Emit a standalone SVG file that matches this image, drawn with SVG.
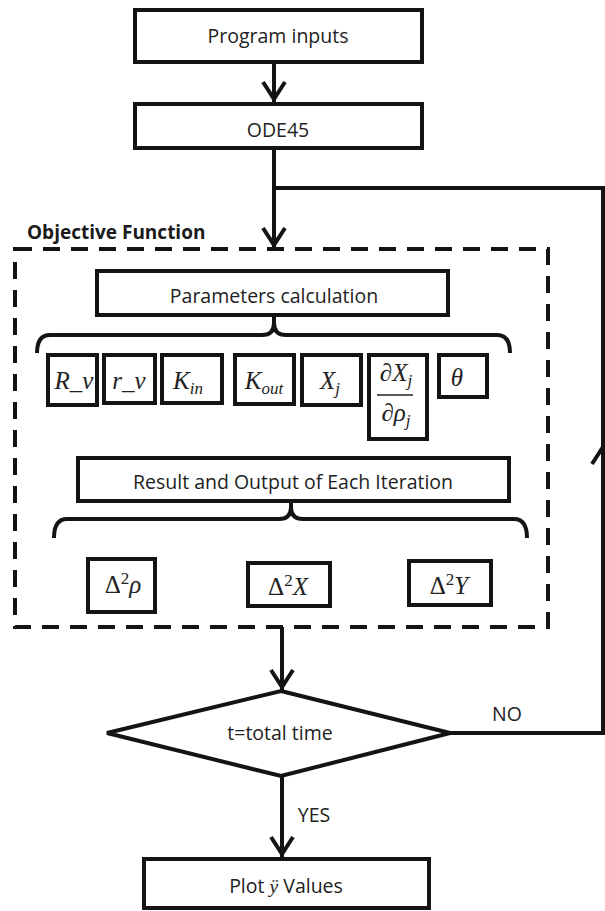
<svg xmlns="http://www.w3.org/2000/svg" width="605" height="911" viewBox="0 0 605 911">
  <defs>
    <style>
      .box { fill: #fff; stroke: #141414; stroke-width: 4; }
      .dash { fill: none; stroke: #141414; stroke-width: 4; stroke-dasharray: 17 11; }
      .line { fill: none; stroke: #141414; stroke-width: 4; }
      .lbl { font-family: "Open Sans", "Liberation Sans", sans-serif; font-size: 19.5px; fill: #222; text-anchor: middle; }
      .bold { font-family: "Open Sans", "Liberation Sans", sans-serif; font-size: 19px; font-weight: bold; fill: #1a1a1a; }
      .math { font-family: "Liberation Serif", "DejaVu Serif", serif; font-style: italic; font-size: 25px; fill: #222; text-anchor: middle; }
      .up { font-style: normal; }
      .sub { font-size: 17px; }
    </style>
    <marker id="arrow" markerUnits="userSpaceOnUse" markerWidth="40" markerHeight="40" viewBox="-25 -20 40 40" refX="3" refY="0" orient="auto">
      <path d="M-17,-11 L0,0 L-17,11" fill="none" stroke="#141414" stroke-width="4"/>
    </marker>
  </defs>

  <rect width="605" height="911" fill="#fff"/>

  <!-- connectors -->
  <g id="connectors">
    <path class="line" d="M274,62 L274,102" marker-end="url(#arrow)"/>
    <path class="line" d="M274,148 L274,248" marker-end="url(#arrow)"/>
    <path class="line" d="M282,627 L282,690" marker-end="url(#arrow)"/>
    <path class="line" d="M282,776 L282,857" marker-end="url(#arrow)"/>
    <path class="line" d="M450,733 L603,733 L603,188 L274,188"/>
    <path class="line" d="M592,464 L603,447 L614,464"/>
    <text class="lbl" x="507" y="721">NO</text>
    <text class="lbl" x="314" y="822">YES</text>
  </g>

  <g id="program-inputs">
    <rect class="box" x="135" y="10" width="287" height="52"/>
    <text class="lbl" x="278" y="43">Program inputs</text>
  </g>

  <g id="ode45">
    <rect class="box" x="135" y="104" width="287" height="44"/>
    <text class="lbl" x="278" y="137">ODE45</text>
  </g>

  <g id="objective-function">
    <rect class="dash" x="15" y="249" width="533" height="378"/>
    <text class="bold" x="27" y="239">Objective Function</text>
  </g>

  <g id="parameters-calculation">
    <rect class="box" x="97" y="271" width="351" height="44"/>
    <text class="lbl" x="274" y="303">Parameters calculation</text>
    <path class="line" d="M37,353 Q37,335 50,335 L262,335 Q274,335 274,323 L274,315 M274,323 Q274,335 286,335 L497,335 Q510,335 510,353"/>
  </g>

  <g id="param-Rv">
    <rect class="box" x="48" y="355" width="49" height="50"/>
    <text class="math" x="74" y="389">R_v</text>
  </g>
  <g id="param-rv">
    <rect class="box" x="104" y="355" width="51" height="48"/>
    <text class="math" x="129" y="389">r_v</text>
  </g>
  <g id="param-Kin">
    <rect class="box" x="162" y="355" width="60" height="48"/>
    <text class="math" x="188" y="389">K<tspan class="sub" dy="5">in</tspan></text>
  </g>
  <g id="param-Kout">
    <rect class="box" x="235" y="355" width="59" height="49"/>
    <text class="math" x="264" y="389">K<tspan class="sub" dy="5">out</tspan></text>
  </g>
  <g id="param-Xj">
    <rect class="box" x="302" y="355" width="59" height="50"/>
    <text class="math" x="330" y="389">X<tspan class="sub" dy="5">j</tspan></text>
  </g>
  <g id="param-dXdrho">
    <rect class="box" x="369" y="355" width="58" height="84"/>
    <text class="math" x="396" y="381">∂X<tspan class="sub" dy="5">j</tspan></text>
    <line x1="377" y1="395" x2="413" y2="395" stroke="#222" stroke-width="1.6"/>
    <text class="math" x="396" y="421">∂ρ<tspan class="sub" dy="5">j</tspan></text>
  </g>
  <g id="param-theta">
    <rect class="box" x="439" y="355" width="48" height="42"/>
    <text class="math" x="457" y="386">θ</text>
  </g>

  <g id="result-output">
    <rect class="box" x="78" y="458" width="431" height="43"/>
    <text class="lbl" x="293" y="489">Result and Output of Each Iteration</text>
    <path class="line" d="M54,538 Q54,519 67,519 L279,519 Q291,519 291,507 L291,501 M291,507 Q291,519 303,519 L514,519 Q527,519 527,538"/>
  </g>

  <g id="delta-rho">
    <rect class="box" x="88" y="559" width="67" height="53"/>
    <text class="math" x="123" y="593"><tspan class="up">Δ</tspan><tspan class="sub up" dy="-9">2</tspan><tspan dy="9">ρ</tspan></text>
  </g>
  <g id="delta-X">
    <rect class="box" x="248" y="563" width="82" height="43"/>
    <text class="math" x="288" y="595"><tspan class="up">Δ</tspan><tspan class="sub up" dy="-9">2</tspan><tspan dy="9">X</tspan></text>
  </g>
  <g id="delta-Y">
    <rect class="box" x="409" y="561" width="82" height="44"/>
    <text class="math" x="449" y="594"><tspan class="up">Δ</tspan><tspan class="sub up" dy="-9">2</tspan><tspan dy="9">Y</tspan></text>
  </g>

  <g id="decision">
    <polygon class="box" points="281,691 450,733 281,776 107,733"/>
    <text class="lbl" x="280" y="740">t=total time</text>
  </g>

  <g id="plot-values">
    <rect class="box" x="144" y="859" width="285" height="49"/>
    <text class="lbl" x="286" y="893">Plot <tspan font-family="Liberation Serif, serif" font-style="italic">ÿ</tspan> Values</text>
  </g>
</svg>
